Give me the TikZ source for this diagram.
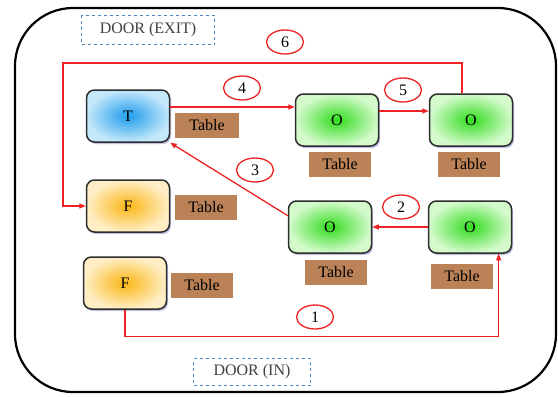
\documentclass[tikz,border=0pt]{standalone}
\usepackage{fontspec}
\setmainfont{Liberation Serif}
\usetikzlibrary{positioning,arrows.meta,shapes.geometric,shadows,calc}
\definecolor{route}{RGB}{238,34,34}
\definecolor{wood}{RGB}{186,130,86}
\definecolor{doorblue}{RGB}{74,134,204}
\definecolor{edge}{RGB}{45,45,45}

\begin{document}
\begin{tikzpicture}[x=1pt,y=-1pt,>={Triangle[length=6.5pt,width=5pt]},
  seat/.style={draw=edge,line width=1.5pt,rounded corners=8pt,
    minimum width=83pt,minimum height=52pt,font=\fontsize{16}{18}\selectfont,
    drop shadow={shadow xshift=1.5pt,shadow yshift=-2pt,opacity=.35,fill=blue!40!gray}},
  tseat/.style={seat,inner color={rgb,255:red,30;green,155;blue,236},outer color={rgb,255:red,196;green,232;blue,250}},
  fseat/.style={seat,inner color={rgb,255:red,250;green,182;blue,20},outer color={rgb,255:red,255;green,238;blue,198}},
  oseat/.style={seat,inner color={rgb,255:red,50;green,220;blue,30},outer color={rgb,255:red,212;green,250;blue,204}},
  tbl/.style={fill=wood,minimum width=62pt,minimum height=25pt,inner sep=0pt,font=\fontsize{16}{18}\selectfont},
  door/.style={draw=doorblue,dashed,line width=.9pt,text=black!75,inner sep=0pt,font=\fontsize{16}{18}\selectfont},
  num/.style={ellipse,draw=route,line width=1.3pt,fill=white,minimum width=37pt,minimum height=24pt,inner sep=0pt,font=\fontsize{16}{18}\selectfont},
  route/.style={draw=route,line width=1.3pt,->}]
\useasboundingbox (0,0) rectangle (558,397);
\draw[line width=2.2pt,rounded corners=58pt] (15,8) rectangle (556,392);
\node[door,minimum width=133pt,minimum height=29pt] (exit) at (148,30) {DOOR (EXIT)};
\node[door,minimum width=117pt,minimum height=27pt] (in) at (252,372) {DOOR (IN)};

\node[tseat] (t1) at (128,116) {T};
\node[fseat] (f1) at (128,206) {F};
\node[fseat] (f2) at (125,283) {F};
\node[oseat] (o1) at (337,120) {O};
\node[oseat] (o2) at (471,120) {O};
\node[oseat] (o3) at (330,227) {O};
\node[oseat] (o4) at (470,227) {O};

\node[tbl,minimum width=64pt] (tt1) at (207,125) {Table};
\node[tbl] (tf1) at (206,207) {Table};
\node[tbl] (tf2) at (202,285) {Table};
\node[tbl] (to1) at (340,164) {Table};
\node[tbl] (to2) at (469,164) {Table};
\node[tbl] (to3) at (336,272) {Table};
\node[tbl] (to4) at (462,276) {Table};

\coordinate (a4) at ([yshift=9pt]t1.east);
\coordinate (a5) at ([yshift=9pt]o1.east);
\coordinate (a6) at ([xshift=-9pt]o2.north);
\coordinate (c6) at (63,63);
\draw[route] (f2.south) -- ++(0,27) -| (o4.-43);
\draw[route] (o4.west) -- (o3.east);
\draw[route] (o3.165) -- (t1.south east);
\draw[route] (a4) -- (a4 -| o1.west);
\draw[route] (a5) -- (a5 -| o2.west);
\draw[route] (a6) |- (c6) |- (f1.west);

\node[num] (n1) at (315,317) {1};
\node[num] (n2) at (401,207) {2};
\node[num] (n3) at (255,170) {3};
\node[num] (n4) at (242,88) {4};
\node[num] (n5) at (403,90) {5};
\node[num] (n6) at (285,42) {6};
\end{tikzpicture}
\end{document}
